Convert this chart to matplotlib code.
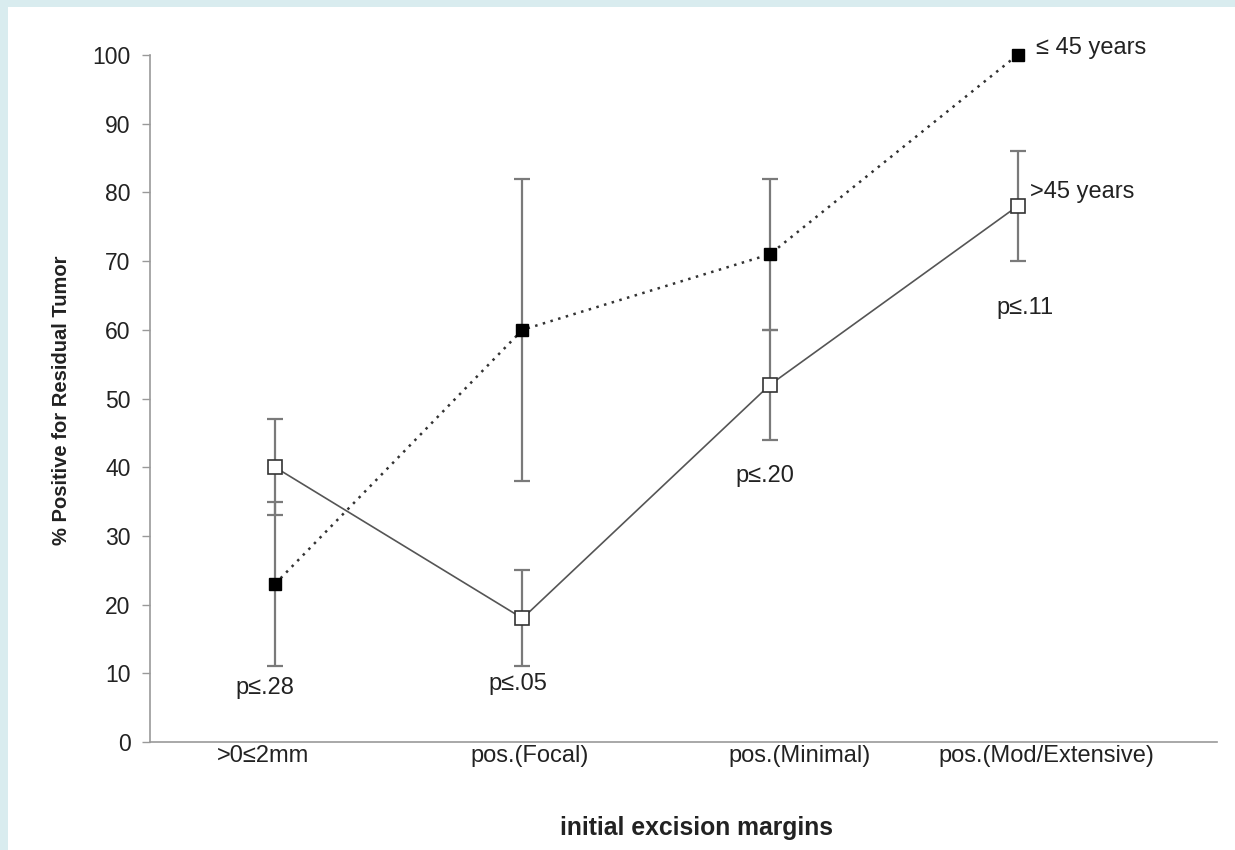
import matplotlib
matplotlib.use('Agg')
import matplotlib.pyplot as plt
from matplotlib.patches import Rectangle
import numpy as np

plt.rcParams['font.family'] = ['Liberation Sans', 'DejaVu Sans']

# margin categories
categories = ['>0≤2mm', 'pos.(Focal)', 'pos.(Minimal)', 'pos.(Mod/Extensive)']
cat_label_x = [-0.048, 1.03, 2.12, 3.115]

# % positive for residual tumor, by age group
young = [23, 60, 71, 100]          # <= 45 years
young_lo = [11, 38, 60, None]
young_hi = [35, 82, 82, None]
old = [40, 18, 52, 78]             # > 45 years
old_lo = [33, 11, 44, 70]
old_hi = [47, 25, 60, 86]

p_labels = ['p≤.28', 'p≤.05', 'p≤.20', 'p≤.11']
p_pos = [(-0.04, 7.9), (-0.02, 8.4), (-0.02, 38.7), (0.03, 63.2)]

x = np.arange(len(categories))
fs = 17
txt = '#222222'

fig = plt.figure(figsize=(12.35, 8.5), dpi=100)
# page frame
fig.patches.append(Rectangle((0, 0), 1, 1, transform=fig.transFigure,
                             facecolor='#D9ECEF', edgecolor='none', zorder=-10))
fig.patches.append(Rectangle((8 / 1235, 0), 1, 1 - 7 / 850, transform=fig.transFigure,
                             facecolor='white', edgecolor='none', zorder=-9))

ax = fig.add_axes([150 / 1235, 108 / 850, (1217 - 150) / 1235, (742 - 55) / 850])
ax.patch.set_alpha(0)

# error bars
ebar = dict(fmt='none', ecolor='#7a7a7a', elinewidth=1.6, capsize=6, capthick=1.6, zorder=2)
yi = [i for i in range(len(x)) if young_lo[i] is not None]
y_vals = np.array([young[i] for i in yi])
ax.errorbar(x[yi], y_vals,
            yerr=[y_vals - np.array([young_lo[i] for i in yi]),
                  np.array([young_hi[i] for i in yi]) - y_vals], **ebar)
old_a = np.array(old)
ax.errorbar(x, old_a, yerr=[old_a - np.array(old_lo), np.array(old_hi) - old_a], **ebar)

# lines
ax.plot(x, young, color='#333333', lw=1.8, ls=(0, (1, 2.2)), zorder=3,
        marker='s', ms=9, mfc='black', mec='black', clip_on=False)
ax.plot(x, old, color='#555555', lw=1.2, ls='-', zorder=3,
        marker='s', ms=10, mfc='white', mec='#333333', mew=1.2, clip_on=False)

# annotations
for lab, (dx, yy), xi in zip(p_labels, p_pos, x):
    ax.text(xi + dx, yy, lab, ha='center', va='center', fontsize=fs, color=txt)
ax.text(3.073, 101.0, '≤ 45 years', ha='left', va='center', fontsize=fs, color=txt)
ax.text(3.05, 80.1, '>45 years', ha='left', va='center', fontsize=fs, color=txt)

# category labels under the axis
for lab, lx in zip(categories, cat_label_x):
    ax.text(lx, -2.0, lab, ha='center', va='center', fontsize=fs, color=txt, clip_on=False)

ax.set_xlim(-0.505, 3.806)
ax.set_ylim(0, 100)
ax.set_yticks(range(0, 101, 10))
ax.set_xticks([])
ax.tick_params(axis='y', length=6, width=1, color='#999999', pad=8, labelsize=16.5, labelcolor=txt)

for s in ['top', 'right']:
    ax.spines[s].set_visible(False)
for s in ['left', 'bottom']:
    ax.spines[s].set_color('#999999')
    ax.spines[s].set_linewidth(1.2)

fig.text(62 / 1235, 1 - 400 / 850, '% Positive for Residual Tumor', rotation=90,
         ha='center', va='center', fontsize=14.5, fontweight='bold', color=txt)
fig.text(697 / 1235, 1 - 828 / 850, 'initial excision margins',
         ha='center', va='center', fontsize=17.8, fontweight='bold', color=txt)

fig.savefig('out.png', dpi=100)
